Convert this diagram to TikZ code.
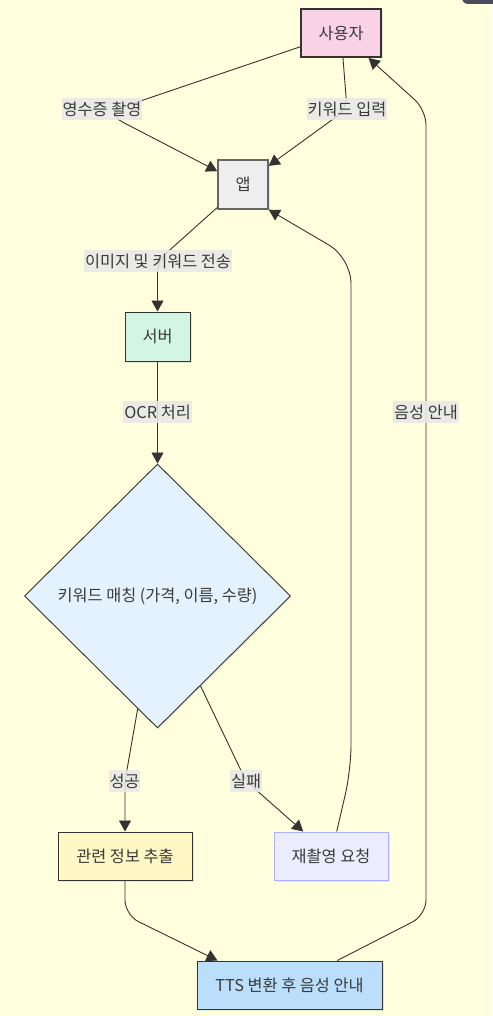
\documentclass[tikz,border=0pt]{standalone}
\usepackage{fontspec}
\setmainfont{Noto Sans CJK KR}
\usetikzlibrary{arrows.meta,shapes.geometric,shadows,calc}
\definecolor{bg}{HTML}{FFFFDE}
\definecolor{txt}{HTML}{3A3A3A}
\definecolor{edge}{HTML}{333333}
\definecolor{lblbg}{HTML}{E8E8E8}
\definecolor{userc}{HTML}{F9D2E6}
\definecolor{appc}{HTML}{EEEEEE}
\definecolor{appb}{HTML}{666666}
\definecolor{srvc}{HTML}{D3F5E3}
\definecolor{diac}{HTML}{E3F2FD}
\definecolor{relc}{HTML}{FFF7C4}
\definecolor{rec}{HTML}{ECECFF}
\definecolor{reb}{HTML}{AFAFFF}
\definecolor{ttsc}{HTML}{BBDEFB}
\definecolor{corner}{HTML}{4A4A5C}
\begin{document}
\begin{tikzpicture}[x=1pt,y=-1pt,
  font=\fontsize{16.3}{19}\selectfont, text=txt,
  box/.style={draw=edge, line width=1pt, minimum height=48pt, inner sep=0pt,
    drop shadow={shadow xshift=1.5pt, shadow yshift=-1.5pt, opacity=0.18}},
  lbl/.style={fill=lblbg, fill opacity=0.85, text opacity=1, inner xsep=1pt, inner ysep=0pt, minimum height=22pt},
  flow/.style={draw=edge, line width=0.9pt, rounded corners=12pt, -{Triangle[length=11pt,width=12pt]}}]
\path[use as bounding box, fill=bg] (0,0) rectangle (492,1016);
\fill[corner, rounded corners=6pt] (462,-12) rectangle (505,4);

% nodes
\node[box, fill=userc, line width=2pt, minimum width=80pt] (user) at (341,33) {사용자};
\node[box, fill=appc, draw=appb, line width=1.4pt, minimum width=50pt, minimum height=49pt] (app) at (243,184.5) {앱};
\node[box, fill=srvc, minimum width=65pt, minimum height=49pt] (server) at (157.5,336.5) {서버};
\node[draw=edge, line width=0.9pt, fill=diac, shape=diamond, inner sep=0pt, minimum width=266pt, minimum height=264pt,
  drop shadow={shadow xshift=1.5pt, shadow yshift=-1.5pt, opacity=0.12}] (dia) at (157.5,596) {키워드 매칭 (가격, 이름, 수량)};
\node[box, fill=relc, minimum width=134pt] (rel) at (125,856) {관련 정보 추출};
\node[box, fill=rec, draw=reb, minimum width=114pt] (re) at (331,856) {재촬영 요청};
\node[box, fill=ttsc, minimum width=185pt] (tts) at (289.5,985) {TTS 변환 후 음성 안내};

% edges
\draw[flow, rounded corners=20pt] (user) -- (105,113) -- (app);
\draw[flow] (user) -- (347,109) -- (app);
\draw[flow] (app) -- (157.5,261) -- (server);
\draw[flow] (server) -- (dia);
\draw[flow] (dia) -- (125,781) -- (rel);
\draw[flow] (dia) -- (246,781) -- (re);
\draw[flow, rounded corners=25pt] (re) -- (351,770) -- (351,258) -- (app.south east);
\draw[flow, rounded corners=15pt] (tts) -- (426,915) -- (426,110) -- (user);
\draw[flow, rounded corners=15pt] (rel) -- (125,915) -- ($(tts.north west)+(21,0)$);

% labels
\node[lbl] (l1) at (102,109) {영수증 촬영};
\node[lbl] (l2) at (347,109) {키워드 입력};
\node[lbl] (l3) at (158,261) {이미지 및 키워드 전송};
\node[lbl] (l4) at (157.5,412) {OCR 처리};
\node[lbl] (l5) at (124.5,781) {성공};
\node[lbl] (l6) at (246,781) {실패};
\node[lbl] (l7) at (426,412) {음성 안내};
\end{tikzpicture}
\end{document}
